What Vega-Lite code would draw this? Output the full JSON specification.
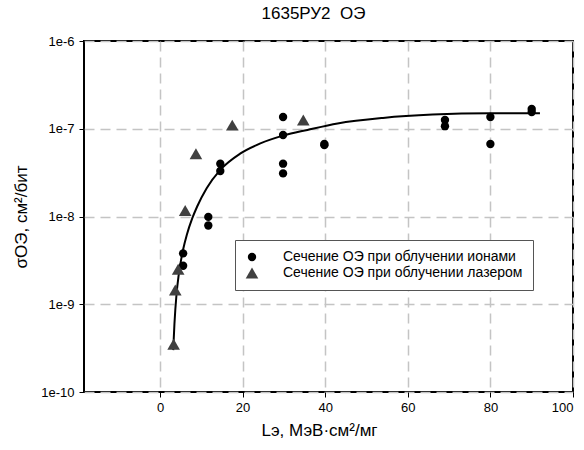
{
  "$schema": "https://vega.github.io/schema/vega-lite/v6.json",
  "autosize": "none",
  "width": 489,
  "height": 351,
  "padding": {"left": 84, "top": 41, "right": 11, "bottom": 58},
  "background": "white",
  "title": {"text": "1635РУ2\u00a0\u00a0ОЭ", "fontSize": 17, "font": "Liberation Sans", "fontWeight": 400, "color": "#000000", "offset": 12, "dx": -15},
  "config": {
    "font": "Liberation Sans",
    "view": {"stroke": "#000000", "strokeWidth": 2},
    "axis": {
      "domain": false,
      "gridColor": "#c4c4c4",
      "gridDash": [10, 6],
      "gridWidth": 1.5,
      "tickColor": "#000000",
      "tickSize": 5,
      "labelFontSize": 13,
      "labelColor": "#000000",
      "titleFontSize": 17,
      "titleFontWeight": 400,
      "titleColor": "#000000"
    },
    "legend": {
      "orient": "none", "legendX": 151, "legendY": 199,
      "fillColor": "#ffffff", "strokeColor": "#555555", "padding": 10,
      "labelFontSize": 14, "labelColor": "#000000", "labelOffset": 24, "labelLimit": 500,
      "symbolStrokeWidth": 0, "symbolOpacity": 1,
      "rowPadding": 2
    }
  },
  "datasets": {
    "curve": [
      {"L": 3.2, "s": 3e-10},
      {"L": 3.5, "s": 6e-10},
      {"L": 4.0, "s": 1.3e-9},
      {"L": 4.5, "s": 2.1e-9},
      {"L": 5.0, "s": 3.0e-9},
      {"L": 5.6, "s": 4.2e-9},
      {"L": 6.5, "s": 6.2e-9},
      {"L": 7.8, "s": 9.5e-9},
      {"L": 9.0, "s": 1.3e-8},
      {"L": 11.3, "s": 2.1e-8},
      {"L": 14.6, "s": 3.4e-8},
      {"L": 19.4, "s": 5.2e-8},
      {"L": 24.3, "s": 6.8e-8},
      {"L": 30.0, "s": 8.4e-8},
      {"L": 35.7, "s": 9.7e-8},
      {"L": 43.0, "s": 1.15e-7},
      {"L": 54.0, "s": 1.33e-7},
      {"L": 66.0, "s": 1.45e-7},
      {"L": 80.0, "s": 1.5e-7},
      {"L": 92.0, "s": 1.5e-7}
    ],
    "points": [
      {"L": 5.6, "s": 3.8e-9, "series": "Сечение ОЭ при облучении ионами"},
      {"L": 5.6, "s": 2.75e-9, "series": "Сечение ОЭ при облучении ионами"},
      {"L": 11.7, "s": 9.9e-9, "series": "Сечение ОЭ при облучении ионами"},
      {"L": 11.7, "s": 7.9e-9, "series": "Сечение ОЭ при облучении ионами"},
      {"L": 14.6, "s": 4.0e-8, "series": "Сечение ОЭ при облучении ионами"},
      {"L": 14.6, "s": 3.3e-8, "series": "Сечение ОЭ при облучении ионами"},
      {"L": 29.8, "s": 1.36e-7, "series": "Сечение ОЭ при облучении ионами"},
      {"L": 29.8, "s": 8.5e-8, "series": "Сечение ОЭ при облучении ионами"},
      {"L": 29.8, "s": 4.0e-8, "series": "Сечение ОЭ при облучении ионами"},
      {"L": 29.8, "s": 3.1e-8, "series": "Сечение ОЭ при облучении ионами"},
      {"L": 39.8, "s": 6.7e-8, "series": "Сечение ОЭ при облучении ионами"},
      {"L": 39.8, "s": 6.5e-8, "series": "Сечение ОЭ при облучении ионами"},
      {"L": 69.0, "s": 1.26e-7, "series": "Сечение ОЭ при облучении ионами"},
      {"L": 69.0, "s": 1.07e-7, "series": "Сечение ОЭ при облучении ионами"},
      {"L": 80.0, "s": 1.36e-7, "series": "Сечение ОЭ при облучении ионами"},
      {"L": 80.0, "s": 6.7e-8, "series": "Сечение ОЭ при облучении ионами"},
      {"L": 90.0, "s": 1.68e-7, "series": "Сечение ОЭ при облучении ионами"},
      {"L": 90.0, "s": 1.55e-7, "series": "Сечение ОЭ при облучении ионами"},
      {"L": 3.3, "s": 3.5e-10, "series": "Сечение ОЭ при облучении лазером"},
      {"L": 3.7, "s": 1.45e-9, "series": "Сечение ОЭ при облучении лазером"},
      {"L": 4.4, "s": 2.5e-9, "series": "Сечение ОЭ при облучении лазером"},
      {"L": 6.1, "s": 1.17e-8, "series": "Сечение ОЭ при облучении лазером"},
      {"L": 8.7, "s": 5.2e-8, "series": "Сечение ОЭ при облучении лазером"},
      {"L": 17.5, "s": 1.1e-7, "series": "Сечение ОЭ при облучении лазером"},
      {"L": 34.7, "s": 1.26e-7, "series": "Сечение ОЭ при облучении лазером"}
    ]
  },
  "encoding": {
    "x": {
      "field": "L", "type": "quantitative",
      "scale": {"domain": [-18.4, 100], "nice": false, "zero": false},
      "axis": {"values": [0, 20, 40, 60, 80, 100], "title": "Lэ, МэВ·см²/мг", "titlePadding": 8, "labelPadding": 4, "titleX": 235}
    },
    "y": {
      "field": "s", "type": "quantitative",
      "scale": {"type": "log", "domain": [1e-10, 1e-6], "nice": false},
      "axis": {"values": [1e-10, 1e-9, 1e-8, 1e-7, 1e-6], "labelExpr": "'1e-' + round(-log(datum.value)/LN10)", "title": "σОЭ, см²/бит", "titlePadding": 10, "labelPadding": 5}
    }
  },
  "layer": [
    {
      "data": {"name": "curve"},
      "mark": {"type": "line", "color": "#000000", "strokeWidth": 2, "interpolate": "monotone"}
    },
    {
      "data": {"name": "points"},
      "mark": {"type": "point", "filled": true, "opacity": 1, "strokeWidth": 0},
      "encoding": {
        "shape": {"field": "series", "type": "nominal", "title": null, "scale": {"range": ["circle", "triangle-up"]}},
        "color": {"field": "series", "type": "nominal", "title": null, "scale": {"range": ["#000000", "#404040"]}},
        "size": {"field": "series", "type": "nominal", "title": null, "scale": {"range": [70, 160]}}
      }
    }
  ]
}
